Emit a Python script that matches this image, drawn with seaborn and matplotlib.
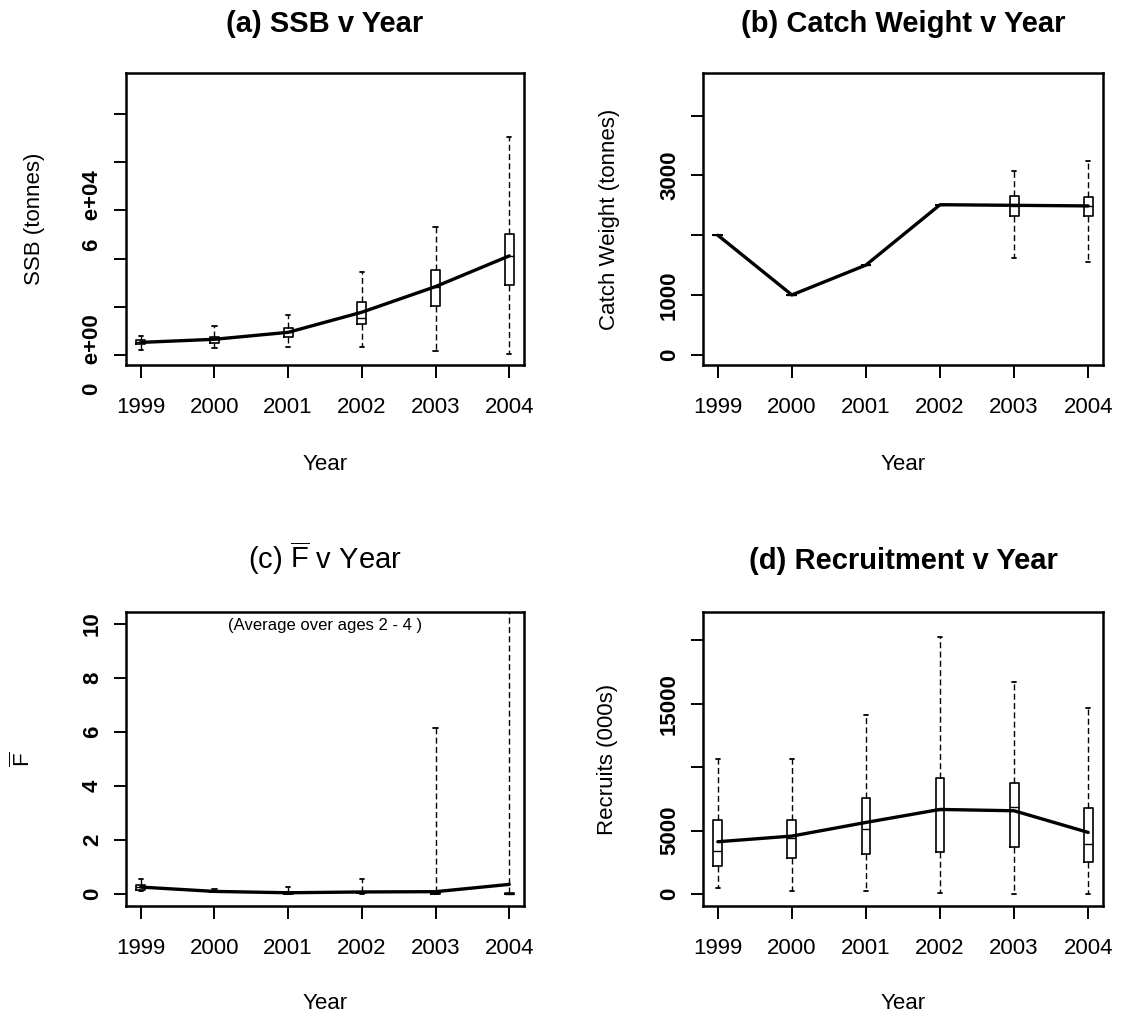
import numpy as np
import pandas as pd
import matplotlib
matplotlib.use("Agg")
import matplotlib.pyplot as plt
import seaborn as sns

# ---------------- data ----------------
years = [1999, 2000, 2001, 2002, 2003, 2004]
year_labels = ["1999", "2000", "2001", "2002", "2003", "2004"]

# (a) SSB (tonnes)
ssb_low = [1900, 2600, 3300, 3330, 1670, 300]
ssb_q1 = [4300, 5000, 7500, 12670, 20290, 29000]
ssb_med = [5100, 6400, 9300, 15170, 28330, 41000]
ssb_q3 = [6100, 7500, 11000, 22080, 35290, 50300]
ssb_high = [7900, 12100, 16300, 34330, 53080, 90600]
ssb_mean = [5100, 6400, 9300, 17670, 28330, 41100]
ssb_ticks = [0, 20000, 40000, 60000, 80000, 100000]
ssb_ticklabels = ["0   e+00", "", "", "6   e+04", "", ""]

# (b) Catch weight (tonnes)
cw_low = [2000, 1000, 1500, 2510, 1615, 1547]
cw_q1 = [2000, 1000, 1500, 2510, 2324, 2324]
cw_med = [2000, 1000, 1500, 2510, 2490, 2490]
cw_q3 = [2000, 1000, 1500, 2510, 2648, 2637]
cw_high = [2000, 1000, 1500, 2510, 3078, 3246]
cw_mean = [2000, 1000, 1500, 2510, 2500, 2490]
cw_ticks = [0, 1000, 2000, 3000, 4000]
cw_ticklabels = ["0", "1000", "", "3000", ""]

# (c) F-bar
f_low = [0.12, 0.05, 0.0, 0.0, 0.0, 0.0]
f_q1 = [0.16, 0.07, 0.01, 0.03, 0.0, 0.0]
f_med = [0.24, 0.09, 0.03, 0.05, 0.03, 0.01]
f_q3 = [0.32, 0.11, 0.06, 0.08, 0.08, 0.04]
f_high = [0.56, 0.17, 0.26, 0.55, 6.12, 10.6]
f_mean = [0.25, 0.09, 0.04, 0.07, 0.08, 0.35]
f_ticks = [0, 2, 4, 6, 8, 10]
f_ticklabels = ["0", "2", "4", "6", "8", "10"]

# (d) Recruits (000s)
rec_low = [446, 236, 236, 105, 0, 0]
rec_q1 = [2205, 2861, 3123, 3307, 3727, 2546]
rec_med = [3412, 4383, 5092, 6600, 6877, 3937]
rec_q3 = [5827, 5827, 7533, 9108, 8766, 6798]
rec_high = [10630, 10630, 14147, 20262, 16719, 14698]
rec_mean = [4121, 4567, 5643, 6667, 6562, 4856]
rec_ticks = [0, 5000, 10000, 15000, 20000]
rec_ticklabels = ["0", "5000", "", "15000", ""]

# ---------------- style ----------------
sns.set_theme(style="ticks")
plt.rcParams["font.family"] = ["Liberation Sans", "DejaVu Sans"]
plt.rcParams["mathtext.fontset"] = "custom"
plt.rcParams["mathtext.rm"] = "Liberation Sans"
plt.rcParams["mathtext.it"] = "Liberation Sans:italic"
plt.rcParams["mathtext.bf"] = "Liberation Sans:bold"
plt.rcParams["axes.edgecolor"] = "black"
plt.rcParams["axes.linewidth"] = 1.8
plt.rcParams["text.color"] = "black"
plt.rcParams["axes.labelcolor"] = "black"
plt.rcParams["xtick.color"] = "black"
plt.rcParams["ytick.color"] = "black"
plt.rcParams["xtick.labelcolor"] = "black"
plt.rcParams["ytick.labelcolor"] = "black"

W, H = 1123, 1015
fig = plt.figure(figsize=(W / 100, H / 100), dpi=100)
fig.patch.set_facecolor("white")


def px_axes(left, top, right, bottom):
    return fig.add_axes([left / W, 1 - bottom / H, (right - left) / W, (bottom - top) / H])


def long_df(low, q1, med, q3, high):
    vals = np.column_stack([low, q1, med, q3, high]).ravel()
    return pd.DataFrame({"Year": np.repeat(years, 5), "value": vals})


def panel(ax, stats, mean, ylim, ticks, ticklabels, ylabel, xlabel_y, ylabel_x):
    df = long_df(*stats)
    sns.boxplot(data=df, x="Year", y="value", native_scale=True, whis=(0, 100),
                width=0.12, fill=False, color="black", linewidth=1.2,
                showfliers=False,
                whiskerprops=dict(linestyle=(0, (4.3, 2.4)), linewidth=1.0, color="black"),
                capprops=dict(linewidth=1.3, color="black"),
                medianprops=dict(linewidth=1.0, color="black"),
                ax=ax)
    sns.lineplot(x=years, y=mean, color="black", linewidth=2.4, ax=ax)
    ax.set_xlim(1998.8, 2004.2)
    ax.set_ylim(*ylim)
    ax.set_xticks(years)
    ax.set_xticklabels(year_labels, fontsize=16, color="black")
    ax.set_yticks(ticks)
    ax.set_yticklabels(ticklabels, fontsize=16, fontweight="bold", rotation=90,
                       va="center", color="black")
    ax.tick_params(axis="x", length=9, width=1.4, pad=14, colors="black")
    ax.tick_params(axis="y", length=9, width=1.4, pad=7.5, colors="black")
    for s in ax.spines.values():
        s.set_visible(True)
        s.set_linewidth(1.8)
        s.set_color("black")
    ax.set_xlabel("Year", fontsize=16, va="center", color="black")
    ax.xaxis.set_label_coords(0.5, xlabel_y)
    ax.set_ylabel(ylabel, fontsize=16, va="center", color="black")
    ax.yaxis.set_label_coords(ylabel_x, 0.5)
    ax.grid(False)


ax_a = px_axes(126, 73, 524, 365)
ax_b = px_axes(703, 73, 1103, 365)
ax_c = px_axes(126, 612, 524, 906)
ax_d = px_axes(703, 612, 1103, 906)

panel(ax_a, (ssb_low, ssb_q1, ssb_med, ssb_q3, ssb_high), ssb_mean,
      (-4300, 117200), ssb_ticks, ssb_ticklabels, "SSB (tonnes)", -0.342, -0.231)
panel(ax_b, (cw_low, cw_q1, cw_med, cw_q3, cw_high), cw_mean,
      (-173, 4715), cw_ticks, cw_ticklabels, "Catch Weight (tonnes)", -0.342, -0.2325)
panel(ax_c, (f_low, f_q1, f_med, f_q3, f_high), f_mean,
      (-0.45, 10.43), f_ticks, f_ticklabels, r"$\overline{\mathrm{F}}$", -0.330, -0.259)
panel(ax_d, (rec_low, rec_q1, rec_med, rec_q3, rec_high), rec_mean,
      (-945, 22231), rec_ticks, rec_ticklabels, "Recruits (000s)", -0.330, -0.2375)

ax_c.text(0.5, 0.955, "(Average over ages 2 - 4 )", transform=ax_c.transAxes,
          ha="center", va="center", fontsize=12, color="black")

# titles
fig.text(325 / W, 1 - 24 / H, "(a) SSB v Year", ha="center", va="center",
         fontsize=21, fontweight="bold", color="black")
fig.text(903 / W, 1 - 24 / H, "(b) Catch Weight v Year", ha="center", va="center",
         fontsize=21, fontweight="bold", color="black")
fig.text(325 / W, 1 - 558 / H, r"(c) $\overline{\mathrm{F}}$ v Year", ha="center", va="center",
         fontsize=21, color="black")
fig.text(903 / W, 1 - 561 / H, "(d) Recruitment v Year", ha="center", va="center",
         fontsize=21, fontweight="bold", color="black")

fig.savefig("out.png", dpi=100, facecolor="white")
